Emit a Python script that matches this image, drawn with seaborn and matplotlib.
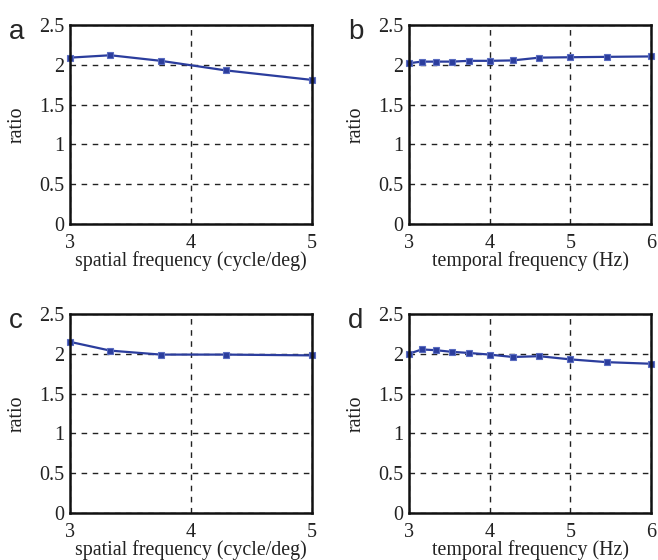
import matplotlib
matplotlib.use("Agg")
import matplotlib.pyplot as plt
import numpy as np
import pandas as pd
import seaborn as sns

# spatial frequency sweep (panels a, c)
spatial_freq = [3.0, 3.333, 3.75, 4.286, 5.0]
ratio_a = [2.09, 2.12, 2.05, 1.93, 1.81]
ratio_c = [2.15, 2.04, 1.99, 1.99, 1.98]

# temporal frequency sweep (panels b, d)
temporal_freq = [3.0, 3.158, 3.333, 3.529, 3.75, 4.0, 4.286, 4.615, 5.0, 5.455, 6.0]
ratio_b = [2.02, 2.04, 2.04, 2.04, 2.05, 2.05, 2.055, 2.09, 2.095, 2.10, 2.105]
ratio_d = [2.00, 2.055, 2.045, 2.025, 2.01, 1.99, 1.96, 1.97, 1.93, 1.895, 1.875]

panel_letters = ["a", "b", "c", "d"]
x_labels = ["spatial frequency (cycle/deg)", "temporal frequency (Hz)"]
y_ticks = [0, 0.5, 1, 1.5, 2, 2.5]
y_tick_labels = ["0", "0.5", "1", "1.5", "2", "2.5"]

sns.set_style("white")
plt.rcParams["font.family"] = ["Liberation Serif", "DejaVu Serif"]

line_color = "#2b3d9d"

fig = plt.figure(figsize=(6.58, 5.6), dpi=100)
W, H = 658.0, 560.0

# axes boxes in pixel coordinates: (left, top, right, bottom)
boxes = [(70, 25, 312, 224), (409, 25, 651, 224),
         (70, 314, 312, 513), (409, 314, 651, 513)]

panels = [
    (spatial_freq, ratio_a, [3, 4, 5], x_labels[0]),
    (temporal_freq, ratio_b, [3, 4, 5, 6], x_labels[1]),
    (spatial_freq, ratio_c, [3, 4, 5], x_labels[0]),
    (temporal_freq, ratio_d, [3, 4, 5, 6], x_labels[1]),
]

for (l, t, r, b), (xs, ys, xticks, xlabel), letter in zip(boxes, panels, panel_letters):
    ax = fig.add_axes([l / W, 1 - b / H, (r - l) / W, (b - t) / H])
    df = pd.DataFrame({"x": xs, "y": ys})
    sns.lineplot(data=df, x="x", y="y", ax=ax, color=line_color, linewidth=1.6,
                 marker="s", markersize=4.5, markerfacecolor=line_color,
                 markeredgecolor="#5a6cc0", markeredgewidth=0.8, clip_on=False)
    ax.set_xlim(xticks[0], xticks[-1])
    ax.set_ylim(0, 2.5)
    ax.set_xticks(xticks)
    ax.set_xticklabels([str(v) for v in xticks])
    ax.set_yticks(y_ticks)
    ax.set_yticklabels(y_tick_labels)
    ax.tick_params(axis="both", length=0, labelsize=14.5, colors="#222222")
    ax.tick_params(axis="x", pad=7)
    ax.tick_params(axis="y", pad=4)
    ax.grid(True, color="#222222", linestyle=(0, (4, 4)), linewidth=1.0)
    for sp in ax.spines.values():
        sp.set_visible(True)
        sp.set_color("#111111")
        sp.set_linewidth(1.8)
    ax.set_xlabel(xlabel, fontsize=14.3, labelpad=-1, color="#222222")
    ax.set_ylabel("ratio", fontsize=14.3, labelpad=9, color="#222222")
    fig.text((l - 61) / W, 1 - (t - 6) / H, letter, fontsize=20,
             family=["Liberation Sans", "DejaVu Sans"], ha="left", va="top")

fig.savefig("out.png", dpi=100)
